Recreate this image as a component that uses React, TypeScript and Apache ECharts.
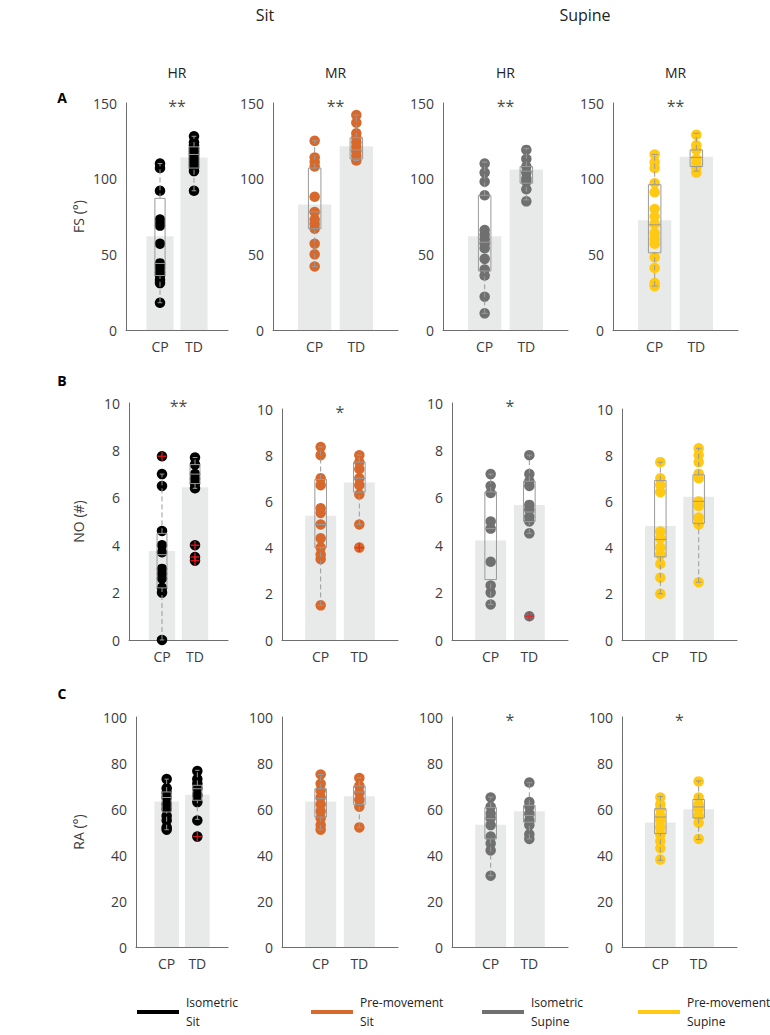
import React, { useEffect, useRef } from "react";
import * as echarts from "echarts";

const categories = ["CP", "TD"];
const conditionNames = ["Isometric\nSit", "Pre-movement\nSit", "Isometric\nSupine", "Pre-movement\nSupine"];
const conditionColors = ["#000000", "#D6692B", "#707070", "#FFC914"];
const postureTitles = ["Sit", "Supine"];
const taskTitles = ["HR", "MR", "HR", "MR"];
const rowLetters = ["A", "B", "C"];
const rowNames = ["FS (°)", "NO (#)", "RA (°)"];
const rowMax = [150, 10, 100];
const rowInterval = [50, 2, 20];

// ---- FS (row A) ----
const fsMeans = [[62, 114], [83, 121.5], [62, 106], [72.5, 114.5]];
const fsBoxes = [
  [[18, 36, 44, 87, 110], [92, 107, 116, 121, 128]],
  [[42, 67, 78, 107, 125], [112, 113, 119, 127, 142]],
  [[11, 39, 58, 89, 111], [86, 97, 105, 108, 120]],
  [[29, 51, 69.5, 96, 116], [105, 108, 114, 119, 130]],
];
const fsPoints = [
  [[18, 31, 33, 36, 38, 41, 43, 44, 57, 69, 71, 73, 92, 107, 110], [92, 105, 107, 109, 111, 113, 116, 118, 120, 122, 124, 128]],
  [[42, 50, 57, 67, 70, 73, 78, 88, 108, 111, 114, 125], [112, 115, 118, 121, 124, 127, 130, 137, 142]],
  [[11, 22, 36, 40, 47, 54, 57, 60, 63, 66, 89, 98, 104, 110], [85, 93, 98, 100, 104, 108, 113, 119]],
  [[29, 31, 41, 48, 57, 60, 64, 70, 75, 80, 91, 97, 107, 111, 116], [104, 107, 110, 113, 119, 122, 129]],
];
const fsOutliers = [[[], []], [[], []], [[], []], [[], []]];
const fsSig = ["**", "**", "**", "**"];

// ---- NO (row B) ----
const noMeans = [[3.76, 6.44], [5.38, 6.82], [4.2, 5.7], [4.94, 6.2]];
const noBoxes = [
  [[0, 2.2, 3.6, 4.5, 7.0], [6.4, 6.6, 7.0, 7.4, 7.7]],
  [[1.5, 4.0, 5.0, 6.95, 8.35], [5.0, 6.4, 7.0, 7.7, 8.0]],
  [[1.5, 2.55, 4.7, 6.25, 7.0], [4.5, 5.0, 5.4, 6.7, 7.8]],
  [[2.0, 3.6, 4.35, 6.9, 7.7], [2.5, 5.05, 6.0, 7.15, 8.3]],
];
const noPoints = [
  [[0, 2.0, 2.2, 2.6, 2.8, 3.0, 3.7, 4.0, 4.6, 6.5, 7.0, 7.75], [3.35, 3.5, 4.0, 6.4, 6.6, 6.8, 7.0, 7.4, 7.7]],
  [[1.5, 3.5, 3.7, 4.0, 4.4, 5.0, 5.5, 5.7, 6.7, 7.0, 8.0, 8.35], [4.0, 5.0, 6.3, 6.7, 7.0, 7.4, 7.7, 8.0]],
  [[1.5, 2.0, 2.3, 3.3, 4.7, 5.0, 6.2, 6.5, 7.0], [1.0, 4.5, 5.0, 5.2, 5.5, 5.7, 6.5, 6.7, 7.0, 7.8]],
  [[2.0, 2.7, 3.3, 3.7, 4.0, 4.4, 4.7, 6.4, 6.7, 7.0, 7.7], [2.5, 5.0, 5.3, 5.8, 6.0, 7.0, 7.2, 7.7, 8.0, 8.3]],
];
const noOutliers = [[[7.75], [3.35, 3.5, 4.0]], [[], [4.0]], [[], [1.0]], [[], []]];
const noSig = ["**", "*", "*", ""];

// ---- RA (row C) ----
const raMeans = [[63.3, 66.2], [63.3, 65.5], [53.2, 59], [54.1, 59.9]];
const raBoxes = [
  [[51, 58.7, 65, 67.4, 73], [55.5, 63.8, 68.8, 70.3, 76.8]],
  [[51, 56.5, 64.5, 68.8, 75], [52, 62, 67.4, 70, 73.6]],
  [[31, 47, 55.8, 60.6, 65.2], [47, 54.3, 57.2, 61.6, 71.4]],
  [[37.7, 49.3, 56.5, 60.1, 65.5], [46.7, 56.1, 60.9, 64.1, 72.2]],
];
const raPoints = [
  [[51, 52, 55, 57, 60, 62, 65, 67, 69, 73], [48, 55, 63, 66, 69, 71, 73, 76.5]],
  [[51, 53, 56, 59, 62, 65, 68, 71, 75], [52, 61, 64, 67, 70, 73.5]],
  [[31, 42, 45, 48, 53, 56, 58, 61, 65], [47, 49, 53, 55, 58, 61, 63, 71.5]],
  [[38, 43, 46, 49, 52, 55, 57, 60, 62, 65], [47, 54, 57, 60, 62, 65, 72]],
];
const raOutliers = [[[], [48]], [[], []], [[], []], [[], []]];
const raSig = ["", "", "*", "*"];

const allMeans = [fsMeans, noMeans, raMeans];
const allBoxes = [fsBoxes, noBoxes, raBoxes];
const allPoints = [fsPoints, noPoints, raPoints];
const allOutliers = [fsOutliers, noOutliers, raOutliers];
const allSig = [fsSig, noSig, raSig];

// ---- layout (pixels) ----
const gridRects = [
  [[126, 103, 102, 227], [273, 103, 125, 227], [443, 103, 125, 227], [613, 103, 125, 227]],
  [[129, 403, 99, 237], [282, 409, 116, 231], [452, 403, 116, 237], [622, 409, 115, 231]],
  [[136, 717, 92, 230], [282, 717, 116, 230], [452, 717, 116, 230], [622, 717, 115, 230]],
];
const nameGaps = [41, 44, 51];

const FONT = "'Open Sans', sans-serif";
const TXT = "#3c3c3c";
const AXIS = "#6e6e6e";
const BAR = "#e8eaea";
const BOX = "#9a9a9a";
const PLUS = "path://M4.2,0H5.8V4.2H10V5.8H5.8V10H4.2V5.8H0V4.2H4.2Z";

function barRender(params: any, api: any) {
  const x = api.value(0);
  const y = api.value(1);
  const p0 = api.coord([x - 0.4, 0]);
  const p1 = api.coord([x + 0.4, y]);
  return {
    type: "rect",
    shape: { x: p0[0], y: p1[1], width: p1[0] - p0[0], height: p0[1] - p1[1] },
    style: { fill: BAR },
  };
}

function boxRender(params: any, api: any) {
  const x = api.value(0);
  const mn = api.value(1), q1 = api.value(2), md = api.value(3), q3 = api.value(4), mx = api.value(5);
  const hw = 0.15, cw = 0.07;
  const c = (xx: number, yy: number) => api.coord([xx, yy]);
  const ln = (a: number[], b: number[], dash: boolean) => ({
    type: "line",
    shape: { x1: a[0], y1: a[1], x2: b[0], y2: b[1] },
    style: { stroke: BOX, lineWidth: 1, lineDash: dash ? [5, 3] : null, fill: null },
  });
  const bl = c(x - hw, q1);
  const tr = c(x + hw, q3);
  return {
    type: "group",
    children: [
      ln(c(x, mn), c(x, q1), true),
      ln(c(x, q3), c(x, mx), true),
      ln(c(x - cw, mn), c(x + cw, mn), false),
      ln(c(x - cw, mx), c(x + cw, mx), false),
      {
        type: "rect",
        shape: { x: bl[0], y: tr[1], width: tr[0] - bl[0], height: bl[1] - tr[1] },
        style: { fill: "none", stroke: BOX, lineWidth: 1 },
      },
      ln(c(x - hw, md), c(x + hw, md), false),
    ],
  };
}

function buildOption() {
  const grid: any[] = [];
  const xAxis: any[] = [];
  const yAxis: any[] = [];
  const series: any[] = [];
  const graphic: any[] = [];

  for (let r = 0; r < 3; r++) {
    for (let c = 0; c < 4; c++) {
      const i = r * 4 + c;
      const [l, t, w, h] = gridRects[r][c];
      grid.push({ left: l, top: t, width: w, height: h, containLabel: false });
      xAxis.push({
        type: "value",
        gridIndex: i,
        min: 0,
        max: 3,
        interval: 1,
        axisLine: { show: true, lineStyle: { color: AXIS, width: 1 } },
        axisTick: { show: true, inside: true, length: 3, customValues: [1, 2], lineStyle: { color: AXIS } },
        axisLabel: {
          show: true,
          customValues: [1, 2],
          formatter: (v: number) => categories[Math.round(v) - 1] || "",
          fontFamily: FONT,
          fontSize: 14,
          color: TXT,
          margin: 9,
        },
        splitLine: { show: false },
      });
      yAxis.push({
        type: "value",
        gridIndex: i,
        min: 0,
        max: rowMax[r],
        interval: rowInterval[r],
        name: c === 0 ? rowNames[r] : "",
        nameLocation: "middle",
        nameGap: nameGaps[r],
        nameRotate: 90,
        nameTextStyle: { fontFamily: FONT, fontSize: 14, color: TXT },
        axisLine: { show: true, lineStyle: { color: AXIS, width: 1 } },
        axisTick: { show: false },
        axisLabel: { fontFamily: FONT, fontSize: 14, color: TXT, margin: 9 },
        splitLine: { show: false },
      });

      const color = conditionColors[c];
      series.push({
        type: "custom",
        xAxisIndex: i,
        yAxisIndex: i,
        z: 1,
        renderItem: barRender,
        data: allMeans[r][c].map((m, k) => [k + 1, m]),
        silent: true,
      });
      const pts: number[][] = [];
      allPoints[r][c].forEach((arr, k) => arr.forEach((v) => pts.push([k + 1, v])));
      series.push({
        type: "scatter",
        xAxisIndex: i,
        yAxisIndex: i,
        z: 2,
        symbol: "circle",
        symbolSize: 10.5,
        itemStyle: { color, opacity: 1 },
        data: pts,
        silent: true,
      });
      series.push({
        type: "custom",
        xAxisIndex: i,
        yAxisIndex: i,
        z: 3,
        renderItem: boxRender,
        data: allBoxes[r][c].map((b, k) => [k + 1, ...b]),
        silent: true,
      });
      const outs: number[][] = [];
      allOutliers[r][c].forEach((arr, k) => arr.forEach((v) => outs.push([k + 1, v])));
      series.push({
        type: "scatter",
        xAxisIndex: i,
        yAxisIndex: i,
        z: 4,
        symbol: PLUS,
        symbolSize: 9,
        itemStyle: { color: "#ff1a1a" },
        data: outs,
        silent: true,
      });
      const sig = allSig[r][c];
      if (sig) {
        series.push({
          type: "scatter",
          xAxisIndex: i,
          yAxisIndex: i,
          z: 5,
          symbolSize: 1,
          itemStyle: { color: "transparent" },
          clip: false,
          data: [[1.5, rowMax[r]]],
          label: {
            show: true,
            position: "inside",
            formatter: sig,
            fontFamily: FONT,
            fontSize: 16,
            color: "#111",
            offset: [0, 3],
          },
          silent: true,
        });
      }
    }
  }

  // posture titles
  const postureX = [265, 585];
  postureTitles.forEach((t, k) =>
    graphic.push({
      type: "text",
      x: postureX[k],
      y: 15,
      style: { text: t, align: "center", verticalAlign: "middle", font: `16px ${FONT}`, fill: "#222" },
    })
  );
  taskTitles.forEach((t, k) => {
    const [l, , w] = gridRects[0][k];
    graphic.push({
      type: "text",
      x: l + w / 2,
      y: 72,
      style: { text: t, align: "center", verticalAlign: "middle", font: `14px ${FONT}`, fill: "#222" },
    });
  });
  const letterY = [97, 380, 693];
  rowLetters.forEach((t, k) =>
    graphic.push({
      type: "text",
      x: 62,
      y: letterY[k],
      style: { text: t, align: "center", verticalAlign: "middle", font: `bold 14px ${FONT}`, fill: "#000" },
    })
  );
  // legend
  const legX = [137, 311, 482, 638];
  conditionNames.forEach((name, k) => {
    graphic.push({
      type: "line",
      shape: { x1: legX[k], y1: 1012, x2: legX[k] + 42, y2: 1012 },
      style: { stroke: conditionColors[k], lineWidth: 4 },
    });
    graphic.push({
      type: "text",
      x: legX[k] + 49,
      y: 1012,
      style: {
        text: name,
        align: "left",
        verticalAlign: "middle",
        font: `12px ${FONT}`,
        lineHeight: 19,
        fill: "#222",
      },
    });
  });

  return {
    animation: false,
    backgroundColor: "#ffffff",
    grid,
    xAxis,
    yAxis,
    series,
    graphic,
  };
}

export default function App() {
  const ref = useRef<HTMLDivElement>(null);
  useEffect(() => {
    document.body.style.margin = "0";
    const chart = echarts.init(ref.current as HTMLDivElement, null, { renderer: "svg" });
    chart.setOption(buildOption() as any);
    return () => chart.dispose();
  }, []);
  return <div ref={ref} style={{ width: 770, height: 1035 }} />;
}
